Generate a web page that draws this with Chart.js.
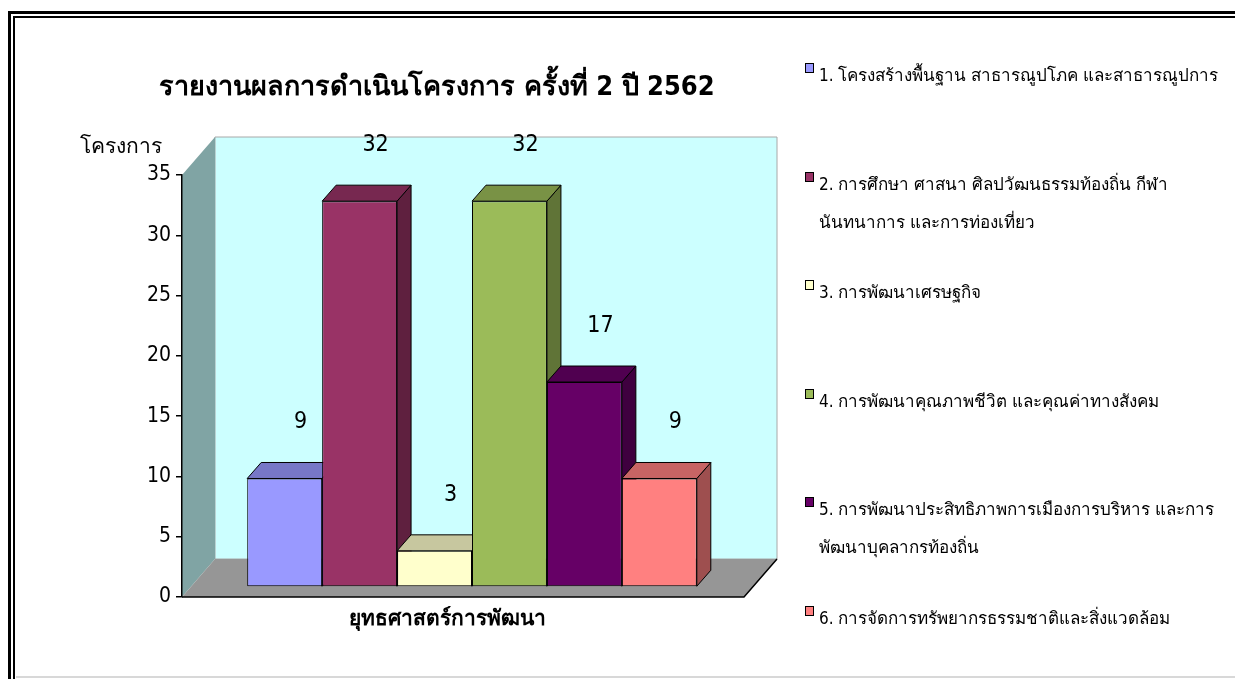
<!DOCTYPE html>
<html>
<head>
<meta charset="utf-8">
<script src="https://cdn.jsdelivr.net/npm/chart.js@4.4.1/dist/chart.umd.min.js"></script>
<style>
  html, body { margin: 0; padding: 0; background: #fff; overflow: hidden; }
  body { width: 1235px; height: 679px; position: relative;
         font-family: "Liberation Sans Narrow", "DejaVu Sans Condensed", "Noto Sans", sans-serif; }
  .frame { position: absolute; background: #000; }
  #bottomline { position: absolute; left: 16px; width: 1219px; top: 676px; height: 2px; background: #d8d8d8; }
  canvas { position: absolute; left: 0; top: 0; }
  .txt { position: absolute; white-space: nowrap; color: #000; }
  #title { left: 437px; top: 85px; transform: translate(-50%, -50%); font-size: 27px; font-weight: bold; }
  #ytitle { left: 80px; top: 145px; transform: translateY(-50%); font-size: 21px; }
  #legend { position: absolute; left: 805px; top: 56px; }
  .item { position: relative; height: 108.5px; padding-left: 14px; font-size: 17px;
          line-height: 38px; white-space: pre; }
  .item .box { position: absolute; left: 0; top: 7px; width: 7px; height: 8px; border: 1px solid #000; }
</style>
</head>
<body>
<div class="frame" style="left:8px;top:11px;width:1227px;height:3px"></div>
<div class="frame" style="left:8px;top:11px;width:3px;height:668px"></div>
<div class="frame" style="left:13px;top:16px;width:1222px;height:2px"></div>
<div class="frame" style="left:13px;top:16px;width:2px;height:663px"></div>
<div id="bottomline"></div>
<canvas id="c" width="1235" height="679"></canvas>
<div class="txt" id="title"></div>
<div class="txt" id="ytitle"></div>
<div id="legend"></div>
<script>
/***********************
 * DATA
 ***********************/
const chartTitle = "รายงานผลการดำเนินโครงการ ครั้งที่ 2  ปี 2562";
const yTitle = "โครงการ";
const categories = ["ยุทธศาสตร์การพัฒนา"];
const seriesNames = [
  "1. โครงสร้างพื้นฐาน สาธารณูปโภค และสาธารณูปการ",
  "2. การศึกษา ศาสนา ศิลปวัฒนธรรมท้องถิ่น กีฬา\nนันทนาการ และการท่องเที่ยว",
  "3. การพัฒนาเศรษฐกิจ",
  "4. การพัฒนาคุณภาพชีวิต และคุณค่าทางสังคม",
  "5. การพัฒนาประสิทธิภาพการเมืองการบริหาร และการ\nพัฒนาบุคลากรท้องถิ่น",
  "6. การจัดการทรัพยากรธรรมชาติและสิ่งแวดล้อม",
];
const seriesValues = [9, 32, 3, 32, 17, 9];
const yMin = 0, yMax = 35, yStep = 5;

/***********************
 * STYLE
 ***********************/
const seriesColors = ["#9999FF", "#993366", "#FFFFCC", "#9BBB59", "#660066", "#FF8080"];
const NUM_FONT = "'Liberation Sans Narrow', 'DejaVu Sans Condensed', sans-serif";
const WALL_DEPTH = { x: 33, y: -38 };   // floor / back wall offset
const BAR_SHIFT = { x: 9, y: -10 };     // bars sit a bit behind the front plane
const BAR_DEPTH = { x: 14, y: -16 };

function shade(hex, f) {
  const n = parseInt(hex.slice(1), 16);
  const r = Math.round(((n >> 16) & 255) * f);
  const g = Math.round(((n >> 8) & 255) * f);
  const b = Math.round((n & 255) * f);
  return `rgb(${r},${g},${b})`;
}

function poly(ctx, pts, fill, stroke) {
  ctx.beginPath();
  ctx.moveTo(pts[0][0], pts[0][1]);
  for (let i = 1; i < pts.length; i++) ctx.lineTo(pts[i][0], pts[i][1]);
  ctx.closePath();
  ctx.fillStyle = fill;
  ctx.fill();
  if (stroke) {
    ctx.strokeStyle = stroke;
    ctx.lineWidth = 1;
    ctx.stroke();
  }
}

/***********************
 * 3D plugin
 ***********************/
const walls3d = {
  id: "walls3d",
  beforeDraw(chart) {
    const { ctx, chartArea: a } = chart;
    const dx = WALL_DEPTH.x, dy = WALL_DEPTH.y;
    ctx.save();
    // back wall
    poly(ctx, [[a.left + dx, a.top + dy], [a.right + dx, a.top + dy],
               [a.right + dx, a.bottom + dy], [a.left + dx, a.bottom + dy]], "#CCFFFF", "#a8a8a8");
    // left wall
    poly(ctx, [[a.left, a.top], [a.left + dx, a.top + dy],
               [a.left + dx, a.bottom + dy], [a.left, a.bottom]], "#80A4A4");
    // floor
    poly(ctx, [[a.left, a.bottom], [a.right, a.bottom],
               [a.right + dx, a.bottom + dy], [a.left + dx, a.bottom + dy]], "#969696");
    ctx.strokeStyle = "#000";
    ctx.lineWidth = 1.5;
    ctx.beginPath();
    ctx.moveTo(a.left, a.bottom);
    ctx.lineTo(a.right, a.bottom);
    ctx.lineTo(a.right + dx, a.bottom + dy);
    ctx.stroke();
    ctx.restore();
  },
  beforeDatasetsDraw(chart) {
    const ctx = chart.ctx;
    ctx.save();
    ctx.translate(BAR_SHIFT.x, BAR_SHIFT.y);
    const dx = BAR_DEPTH.x, dy = BAR_DEPTH.y;
    chart.data.datasets.forEach((ds, i) => {
      const meta = chart.getDatasetMeta(i);
      meta.data.forEach((bar) => {
        const l = bar.x - bar.width / 2, r = bar.x + bar.width / 2;
        const t = bar.y, b = bar.base;
        poly(ctx, [[r, t], [r + dx, t + dy], [r + dx, b + dy], [r, b]], shade(seriesColors[i], 0.62), "#000");
        poly(ctx, [[l, t], [r, t], [r + dx, t + dy], [l + dx, t + dy]], shade(seriesColors[i], 0.78), "#000");
      });
    });
  },
  afterDatasetsDraw(chart) {
    const ctx = chart.ctx;
    ctx.font = `23px ${NUM_FONT}`;
    ctx.fillStyle = "#000";
    ctx.textAlign = "center";
    ctx.textBaseline = "middle";
    chart.data.datasets.forEach((ds, i) => {
      chart.getDatasetMeta(i).data.forEach((bar, j) => {
        ctx.fillText(String(ds.data[j]), bar.x + 16, bar.y - 56);
      });
    });
    ctx.restore();
  },
};

/***********************
 * CHART
 ***********************/
function init() {
  document.getElementById("title").textContent = chartTitle;
  document.getElementById("ytitle").textContent = yTitle;

  const datasets = seriesNames.map((name, i) => ({
    label: name,
    data: [seriesValues[i]],
    backgroundColor: seriesColors[i],
    borderColor: "#000",
    borderWidth: 1,
    borderSkipped: false,
    barPercentage: 1.0,
    categoryPercentage: 0.8,
  }));

  const chart = new Chart(document.getElementById("c"), {
    type: "bar",
    data: { labels: categories, datasets },
    plugins: [walls3d],
    options: {
      responsive: false,
      animation: false,
      devicePixelRatio: 1,
      layout: { padding: { left: 0, top: 175, right: 491, bottom: 0 } },
      plugins: { legend: { display: false }, tooltip: { enabled: false } },
      scales: {
        x: {
          grid: { display: false },
          border: { display: false },
          ticks: { color: "#000", padding: 2, labelOffset: -16,
                   font: { size: 21, family: "'Liberation Sans Narrow', 'DejaVu Sans Condensed', sans-serif", weight: "bold" } },
          afterFit(s) { s.height = 82; s.paddingLeft = 0; s.paddingRight = 0; },
        },
        y: {
          min: yMin, max: yMax,
          ticks: { stepSize: yStep, color: "#000", padding: 5,
                   font: { size: 21, family: "'Liberation Sans Narrow', 'DejaVu Sans Condensed', sans-serif" } },
          grid: { drawOnChartArea: false, drawTicks: true, tickLength: 6, color: "#000", lineWidth: 1.5 },
          border: { display: true, color: "#000", width: 1.5 },
          afterFit(s) { s.width = 182; s.paddingTop = 0; s.paddingBottom = 0; },
        },
      },
    },
  });

  // HTML legend built from datasets
  const leg = document.getElementById("legend");
  chart.data.datasets.forEach((ds) => {
    const it = document.createElement("div");
    it.className = "item";
    const box = document.createElement("span");
    box.className = "box";
    box.style.background = ds.backgroundColor;
    it.appendChild(box);
    it.appendChild(document.createTextNode(ds.label));
    leg.appendChild(it);
  });
}

document.addEventListener("DOMContentLoaded", init);
</script>
</body>
</html>
